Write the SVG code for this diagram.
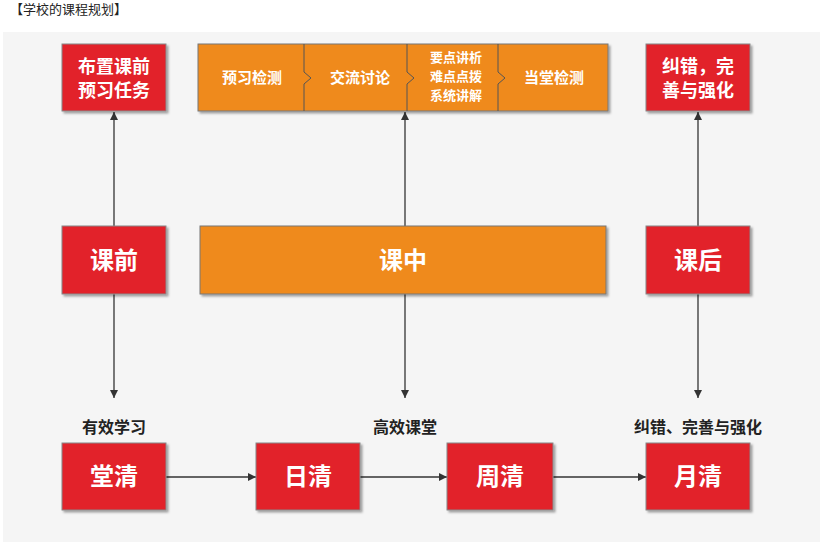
<svg xmlns="http://www.w3.org/2000/svg" width="823" height="546" viewBox="0 0 823 546">
<defs>
<marker id="ah" viewBox="0 0 10 10" refX="10" refY="5" markerWidth="8" markerHeight="8" markerUnits="userSpaceOnUse" orient="auto"><path d="M0,0 L10,5 L0,10 z" fill="#333"/></marker>
<filter id="sh" x="-10%" y="-10%" width="130%" height="130%"><feDropShadow dx="2" dy="2" stdDeviation="1.2" flood-color="#000" flood-opacity="0.35"/></filter>
</defs>
<style>
text{font-family:"Noto Sans CJK SC","Noto Sans",sans-serif;text-anchor:middle}
.r{fill:#e2202c;stroke:#888;stroke-width:1;filter:url(#sh)}
.o{fill:#ef8a1c;stroke:#777;stroke-width:1;filter:url(#sh)}
.t{fill:#fff;font-weight:bold;font-size:18px}
.b{fill:#fff;font-weight:bold;font-size:24px}
.s{fill:#fff;font-weight:bold;font-size:15px}
.m{fill:#fff;font-weight:bold;font-size:13px}
.l{fill:#222;font-weight:bold;font-size:16px}
.c{stroke:#333;stroke-width:1.3;fill:none;marker-end:url(#ah)}
</style>
<rect width="823" height="546" fill="#fff"/>
<text x="10" y="14" style="text-anchor:start;font-size:13px;fill:#222">【学校的课程规划】</text>
<rect x="3" y="32" width="817" height="510" fill="#f5f5f5"/>
<g id="connectors">
<line class="c" x1="114" y1="226" x2="114" y2="112"/>
<line class="c" x1="405" y1="226" x2="405" y2="112"/>
<line class="c" x1="698" y1="226" x2="698" y2="112"/>
<line class="c" x1="114" y1="294" x2="114" y2="398"/>
<line class="c" x1="405" y1="294" x2="405" y2="398"/>
<line class="c" x1="698" y1="294" x2="698" y2="398"/>
<line class="c" x1="166" y1="477" x2="256" y2="477"/>
<line class="c" x1="360" y1="477" x2="447" y2="477"/>
<line class="c" x1="553" y1="477" x2="646" y2="477"/>
</g>
<g id="n1"><rect class="r" x="62" y="44" width="104" height="67"/><text class="t" x="114" y="73">布置课前</text><text class="t" x="114" y="97">预习任务</text></g>
<g id="n2"><rect class="o" x="198" y="44" width="410" height="67"/>
<path d="M304,44 V72 L311,78 L304,84 V111 M407,44 V72 L414,78 L407,84 V111 M498,44 V72 L505,78 L498,84 V111" stroke="#555" stroke-width="1" fill="none"/>
<text class="s" x="252" y="83">预习检测</text><text class="s" x="360" y="83">交流讨论</text>
<text class="m" x="456" y="62">要点讲析</text><text class="m" x="456" y="81">难点点拨</text><text class="m" x="456" y="100">系统讲解</text>
<text class="s" x="554" y="83">当堂检测</text></g>
<g id="n3"><rect class="r" x="646" y="44" width="104" height="67"/><text class="t" x="698" y="73">纠错，完</text><text class="t" x="698" y="97">善与强化</text></g>
<g id="n4"><rect class="r" x="62" y="226" width="104" height="68"/><text class="b" x="114" y="269">课前</text></g>
<g id="n5"><rect class="o" x="200" y="226" width="406" height="68"/><text class="b" x="403" y="269">课中</text></g>
<g id="n6"><rect class="r" x="646" y="226" width="104" height="68"/><text class="b" x="698" y="269">课后</text></g>
<g id="labels"><text class="l" x="114" y="433">有效学习</text><text class="l" x="405" y="433">高效课堂</text><text class="l" x="698" y="433">纠错、完善与强化</text></g>
<g id="n7"><rect class="r" x="62" y="443" width="104" height="67"/><text class="b" x="114" y="485">堂清</text></g>
<g id="n8"><rect class="r" x="256" y="443" width="104" height="67"/><text class="b" x="308" y="485">日清</text></g>
<g id="n9"><rect class="r" x="447" y="443" width="106" height="67"/><text class="b" x="500" y="485">周清</text></g>
<g id="n10"><rect class="r" x="646" y="443" width="104" height="67"/><text class="b" x="698" y="485">月清</text></g>
</svg>
